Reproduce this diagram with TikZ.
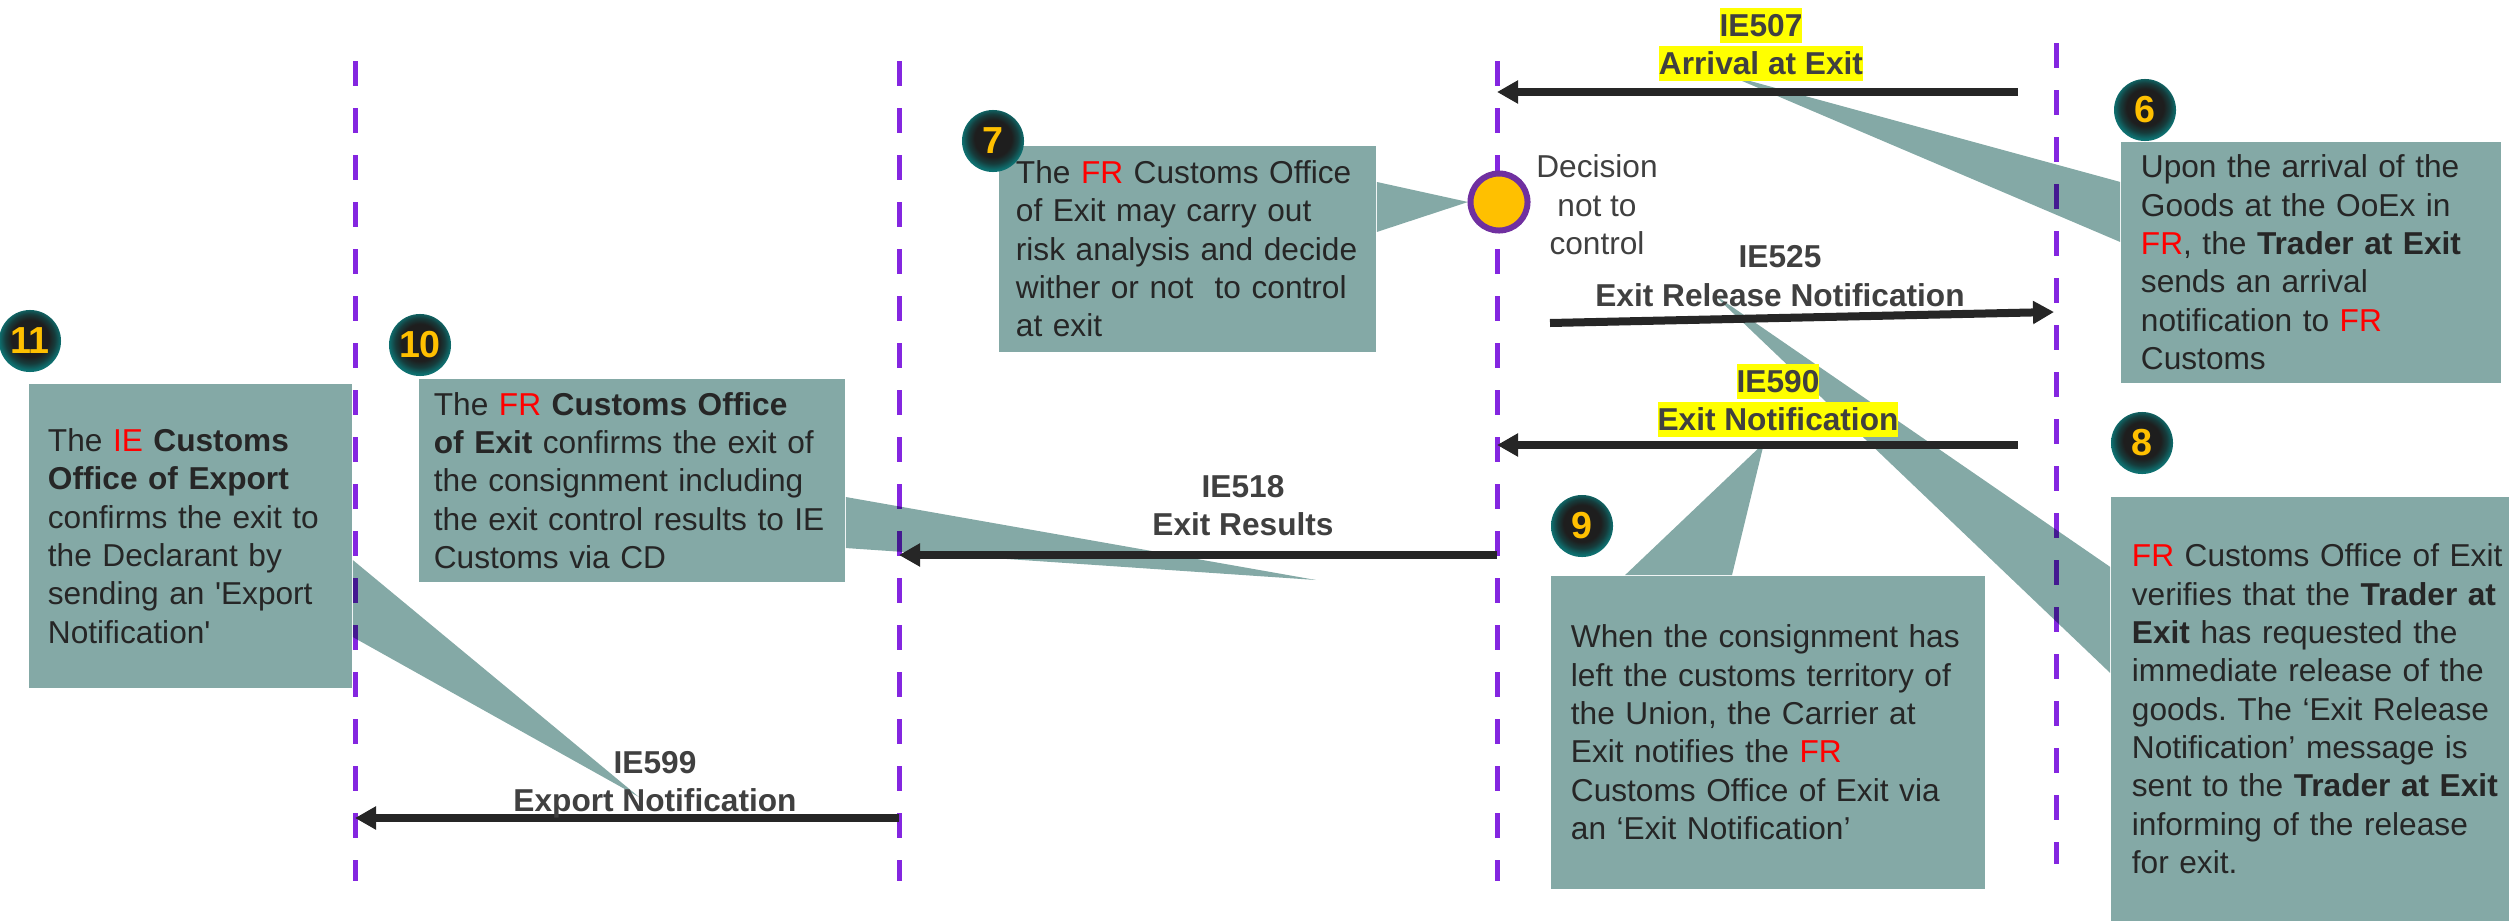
\documentclass[tikz,border=0pt]{standalone}
\usepackage{fontspec}
\setmainfont{Liberation Sans}
\usetikzlibrary{arrows.meta}
\frenchspacing
\definecolor{lifepurple}{RGB}{132,38,224}
\definecolor{calloutfill}{RGB}{132,169,166}
\definecolor{arrowgray}{RGB}{38,38,38}
\definecolor{labelgray}{RGB}{64,64,64}
\definecolor{bodytext}{RGB}{38,38,38}
\definecolor{hiyellow}{RGB}{255,255,0}
\definecolor{numgold}{RGB}{255,192,0}
\definecolor{decfill}{RGB}{255,192,0}
\definecolor{decpurple}{RGB}{112,48,160}
\definecolor{rimteal}{RGB}{14,112,112}
\definecolor{badgecore}{RGB}{30,30,30}
\definecolor{badgemid}{RGB}{22,60,60}
\definecolor{frred}{RGB}{255,0,0}
\pgfdeclareradialshading{badgeshade}{\pgfpoint{0bp}{3bp}}{color(0bp)=(badgecore); color(15bp)=(badgecore); color(20bp)=(badgemid); color(25bp)=(rimteal); color(50bp)=(rimteal)}
\newcommand{\cty}[1]{\textcolor{frred}{#1}}
\newcommand{\msgstrut}{\rule[-0.21em]{0pt}{1.12em}}
\newcommand{\hlt}[1]{{\setlength{\fboxsep}{0pt}\colorbox{hiyellow}{\msgstrut #1}}}
\tikzstyle{calloutbox} = [rectangle, fill=calloutfill, text=bodytext, align=left, inner ysep=0pt, font=\fontsize{9pt}{10.9pt}\selectfont]
\tikzstyle{calloutptr} = [fill=calloutfill]
\tikzstyle{lifeline} = [draw=lifepurple, line width=0.05cm, dash pattern=on 0.25cm off 0.22cm]
\tikzstyle{msgarrow} = [draw=arrowgray, line width=0.08cm, -{Triangle[length=0.21cm,width=0.22cm]}]
\tikzstyle{msglabel} = [text=labelgray, align=center, inner sep=0pt, font=\fontsize{9pt}{10.9pt}\selectfont\bfseries]
\tikzstyle{badge} = [circle, minimum size=0.62cm, inner sep=0pt, shading=badgeshade, text=numgold, font=\fontsize{10.7pt}{12pt}\selectfont\bfseries]
\tikzstyle{decision} = [circle, minimum size=0.57cm, inner sep=0pt, fill=decfill, draw=decpurple, line width=0.06cm]

\begin{document}
\begin{tikzpicture}[x=0.01cm, y=-0.01cm]
	\useasboundingbox (0,0) rectangle (2509,921);
	% lifelines
	\coordinate (ll1t) at (355,61);  \coordinate (ll1b) at (355,881);
	\coordinate (ll2t) at (899,61);  \coordinate (ll2b) at (899,881);
	\coordinate (ll3t) at (1497,61); \coordinate (ll3b) at (1497,881);
	\coordinate (ll4t) at (2056,43); \coordinate (ll4b) at (2056,864);
	% callouts
	\node (c11) [calloutbox, minimum width=3.23cm, minimum height=3.04cm, inner xsep=0.19cm, text width=2.85cm] at (190.5,536) {The \cty{IE} \textbf{Customs}\\\textbf{Office of Export}\\confirms the exit to\\the Declarant by\\sending an \textquotesingle Export\\Notification\textquotesingle};
	\node (c10) [calloutbox, minimum width=4.26cm, minimum height=2.03cm, inner xsep=0.15cm, text width=3.96cm] at (632,480.5) {The \cty{FR} \textbf{Customs Office}\\\textbf{of Exit} confirms the exit of\\the consignment including\\the exit control results to IE\\Customs via CD};
	\node (c7) [calloutbox, minimum width=3.77cm, minimum height=2.06cm, inner xsep=0.17cm, text width=3.43cm] at (1187.5,249) {The \cty{FR} Customs Office\\of Exit may carry out\\risk analysis and decide\\wither or not\ \ to control\\at exit};
	\node (c6) [calloutbox, minimum width=3.80cm, minimum height=2.41cm, inner xsep=0.20cm, text width=3.40cm] at (2311,262.5) {Upon the arrival of the\\Goods at the OoEx in\\\cty{FR}, the \textbf{Trader at Exit}\\sends an arrival\\notification to \cty{FR}\\Customs};
	\node (c8) [calloutbox, minimum width=4.28cm, minimum height=4.24cm, inner xsep=0.21cm, text width=3.86cm] at (2325,709) {\cty{FR} Customs Office of Exit\\verifies that the \textbf{Trader at}\\\textbf{Exit} has requested the\\immediate release of the\\goods. The ‘Exit Release\\Notification’ message is\\sent to the \textbf{Trader at Exit}\\informing of the release\\for exit.};
	\node (c9) [calloutbox, minimum width=4.34cm, minimum height=3.13cm, inner xsep=0.20cm, text width=3.94cm] at (1768,732.5) {When the consignment has\\left the customs territory of\\the Union, the Carrier at\\Exit notifies the \cty{FR}\\Customs Office of Exit via\\an ‘Exit Notification’};
	% callout pointers
	\coordinate (t11) at (639,797);
	\coordinate (t10) at (1316,580);
	\coordinate (t7) at (1468,202);
	\coordinate (t6) at (1728,75);
	\coordinate (t8) at (1712,293);
	\coordinate (t9) at (1764,443);
	\fill[calloutptr] ([yshift=-0.24cm]c11.east) -- (t11) -- ([yshift=-1.01cm]c11.east) -- cycle;
	\fill[calloutptr] ([yshift=-0.165cm]c10.east) -- (t10) -- ([yshift=-0.675cm]c10.east) -- cycle;
	\fill[calloutptr] ([yshift=0.67cm]c7.east) -- (t7) -- ([yshift=0.17cm]c7.east) -- cycle;
	\fill[calloutptr] ([yshift=0.805cm]c6.west) -- (t6) -- ([yshift=0.205cm]c6.west) -- cycle;
	\fill[calloutptr] ([yshift=1.42cm]c8.west) -- (t8) -- ([yshift=0.36cm]c8.west) -- cycle;
	\fill[calloutptr] ([xshift=-1.43cm]c9.north) -- (t9) -- ([xshift=-0.36cm]c9.north) -- cycle;
	\begin{scope}[blend mode=multiply]
	\draw[lifeline] (ll1t) -- (ll1b);
	\draw[lifeline] (ll2t) -- (ll2b);
	\draw[lifeline] (ll3t) -- (ll3b);
	\draw[lifeline] (ll4t) -- (ll4b);
	\end{scope}
	% messages
	\coordinate (m507) at (2018,92);
	\coordinate (m525) at (1550,323);
	\coordinate (m525e) at (2054,312);
	\coordinate (m590) at (2018,445);
	\coordinate (m518) at (1497,555);
	\coordinate (m599) at (899,818);
	\draw[msgarrow] (m507) -- (m507 -| ll3t);
	\draw[msgarrow] (m525) -- (m525e);
	\draw[msgarrow] (m590) -- (m590 -| ll3t);
	\draw[msgarrow] (m518) -- (m518 -| ll2t);
	\draw[msgarrow] (m599) -- (m599 -| ll1t);
	\node (l507) [msglabel] at (1761,44.5) {\hlt{IE507}\\\hlt{Arrival at Exit}};
	\node (l525) [msglabel] at (1780,276) {\msgstrut IE525\\\msgstrut Exit Release Notification};
	\node (l590) [msglabel] at (1778,400.5) {\hlt{IE590}\\\hlt{Exit Notification}};
	\node (l518) [msglabel] at (1243,505.5) {\msgstrut IE518\\\msgstrut Exit Results};
	\node (l599) [msglabel] at (655,781.5) {\msgstrut IE599\\\msgstrut Export Notification};
	% decision
	\node (dec) [decision] at (1499,202) {};
	\node (declbl) [text=labelgray, align=center, font=\fontsize{9pt}{10.9pt}\selectfont] at (1597,205) {Decision\\not to\\control};
	% step numbers
	\node (b6) [badge] at (2145,110) {6};
	\node (b7) [badge] at (993,141) {7};
	\node (b8) [badge] at (2142,443) {8};
	\node (b9) [badge] at (1582,526) {9};
	\node (b10) [badge] at (420,345) {10};
	\node (b11) [badge] at (30,341) {11};
\end{tikzpicture}
\end{document}
